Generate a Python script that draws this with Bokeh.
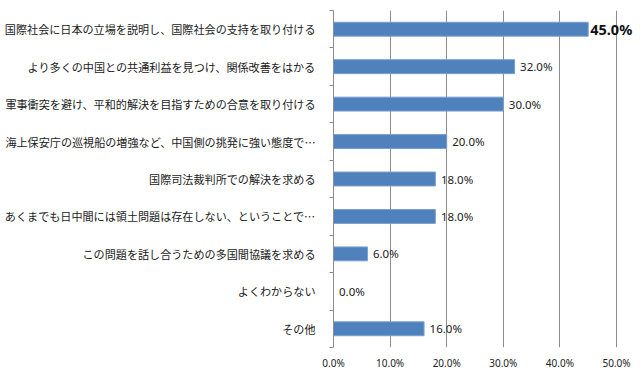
from bokeh.plotting import figure
from bokeh.models import ColumnDataSource, FixedTicker, PrintfTickFormatter, Range1d
from bokeh.core.properties import value
from bokeh.embed import file_html
from bokeh.resources import INLINE

categories = [
    "国際社会に日本の立場を説明し、国際社会の支持を取り付ける",
    "より多くの中国との共通利益を見つけ、関係改善をはかる",
    "軍事衝突を避け、平和的解決を目指すための合意を取り付ける",
    "海上保安庁の巡視船の増強など、中国側の挑発に強い態度で…",
    "国際司法裁判所での解決を求める",
    "あくまでも日中間には領土問題は存在しない、ということで…",
    "この問題を話し合うための多国間協議を求める",
    "よくわからない",
    "その他",
]
values = [45.0, 32.0, 30.0, 20.0, 18.0, 18.0, 6.0, 0.0, 16.0]
x_ticks = [0, 10, 20, 30, 40, 50]

n = len(categories)
ys = [n - i - 0.5 for i in range(n)]
labels = ["%.1f%%" % v for v in values]
vmax = max(values)

src = ColumnDataSource(dict(y=ys, v=values, lab=labels))
hi = [i for i, v in enumerate(values) if v == vmax]
lo = [i for i, v in enumerate(values) if v != vmax]
src_hi = ColumnDataSource(dict(y=[ys[i] for i in hi], v=[values[i] for i in hi], lab=[labels[i] for i in hi]))
src_lo = ColumnDataSource(dict(y=[ys[i] for i in lo], v=[values[i] for i in lo], lab=[labels[i] for i in lo]))

W = 638
LEFT = 333
p = figure(width=W, height=372, output_backend="svg", toolbar_location=None,
           x_range=Range1d(0, 50 * (W - LEFT) / 283), y_range=Range1d(0, n))
p.min_border_left = LEFT
p.min_border_right = 0
p.min_border_top = 10
p.min_border_bottom = 24
p.outline_line_color = None
p.background_fill_color = "white"
p.border_fill_color = "white"

p.hbar(y="y", right="v", left=0, height=0.372, source=src,
       fill_color="#4F81BD", line_color="#7AA0CF", line_width=1)

p.text(x="v", y="y", text="lab", source=src_lo, x_offset=5.5,
       text_baseline="middle", text_align="left",
       text_font=value("Noto Sans"), text_font_size="11.5px", text_color="#222222")
p.text(x="v", y="y", text="lab", source=src_hi, x_offset=2,
       text_baseline="middle", text_align="left", text_font_style="bold",
       text_font=value("Noto Sans"), text_font_size="14.5px", text_color="#111111")

# x axis
xa = p.xaxis[0]
xa.ticker = FixedTicker(ticks=x_ticks)
xa.formatter = PrintfTickFormatter(format="%.1f%%")
xa.axis_line_color = None
xa.major_tick_line_color = None
xa.minor_tick_line_color = None
xa.major_tick_out = 0
xa.major_tick_in = 0
xa.minor_tick_out = 0
xa.minor_tick_in = 0
xa.major_label_standoff = 8
xa.major_label_text_font = "Noto Sans"
xa.major_label_text_font_size = "10px"
xa.major_label_text_color = "#222222"

# y axis
ya = p.yaxis[0]
ya.ticker = FixedTicker(ticks=ys, minor_ticks=list(range(n + 1)))
ya.major_label_overrides = {float(y): c for y, c in zip(ys, categories)}
ya.axis_line_color = "#8c8c8c"
ya.major_tick_out = 0
ya.major_tick_in = 0
ya.major_tick_line_color = None
ya.minor_tick_out = 4
ya.minor_tick_in = 0
ya.minor_tick_line_color = "#8c8c8c"
ya.major_label_standoff = 14
ya.major_label_text_font = "Noto Sans CJK JP"
ya.major_label_text_font_size = "11.1px"
ya.major_label_text_color = "#1a1a1a"

p.xgrid.ticker = FixedTicker(ticks=x_ticks[1:])
p.xgrid.grid_line_color = "#8c8c8c"
p.ygrid.grid_line_color = None

open("out.html", "w").write(file_html(p, INLINE))
